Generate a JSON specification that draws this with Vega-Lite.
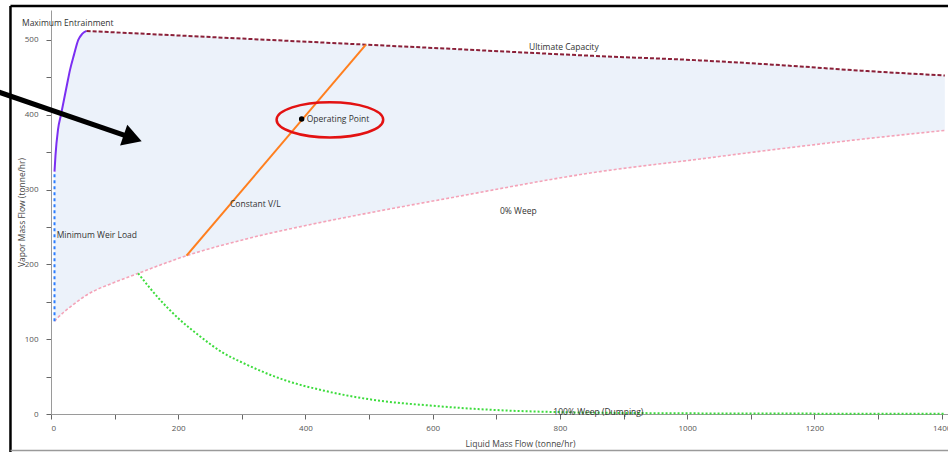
{
  "$schema": "https://vega.github.io/schema/vega-lite/v6.json",
  "width": 897,
  "height": 404,
  "autosize": "none",
  "padding": {"left": 51, "top": 10, "right": 0, "bottom": 38},
  "background": "white",
  "config": {"view": {"stroke": null}, "font": "Open Sans", "text": {"font": "Open Sans"}},
  "datasets": {
    "region": [
      {"x": 5.5, "y": 124, "y2": 324}, {"x": 7, "y": 125.5, "y2": 345}, {"x": 11, "y": 129, "y2": 380},
      {"x": 15.7, "y": 133, "y2": 400}, {"x": 20.4, "y": 136.3, "y2": 420}, {"x": 25.1, "y": 139.6, "y2": 440},
      {"x": 29.9, "y": 143, "y2": 460}, {"x": 36.1, "y": 147, "y2": 480}, {"x": 42.9, "y": 151.3, "y2": 500},
      {"x": 49, "y": 155, "y2": 508}, {"x": 56, "y": 159, "y2": 512}, {"x": 100, "y": 176, "y2": 510.2},
      {"x": 137, "y": 188, "y2": 508.6}, {"x": 213, "y": 211.6, "y2": 505.5}, {"x": 307, "y": 234, "y2": 501.5},
      {"x": 412, "y": 254, "y2": 497.2}, {"x": 495, "y": 268, "y2": 493.7}, {"x": 622, "y": 288, "y2": 488.4},
      {"x": 863, "y": 324, "y2": 478.3}, {"x": 1012, "y": 340, "y2": 473}, {"x": 1161, "y": 356, "y2": 465.5},
      {"x": 1271, "y": 367, "y2": 459}, {"x": 1405, "y": 379, "y2": 452.5}
    ],
    "weep0": [
      {"x": 5.5, "y": 124}, {"x": 11, "y": 129}, {"x": 20, "y": 136}, {"x": 30, "y": 143}, {"x": 45.6, "y": 153},
      {"x": 56, "y": 159}, {"x": 100, "y": 176}, {"x": 137, "y": 188}, {"x": 213, "y": 211.6}, {"x": 307, "y": 234},
      {"x": 412, "y": 254}, {"x": 495, "y": 268}, {"x": 622, "y": 288}, {"x": 863, "y": 324}, {"x": 1012, "y": 340},
      {"x": 1161, "y": 356}, {"x": 1271, "y": 367}, {"x": 1405, "y": 379}
    ],
    "weep100": [
      {"x": 137, "y": 188}, {"x": 171, "y": 153}, {"x": 200, "y": 128}, {"x": 234, "y": 104}, {"x": 270, "y": 82},
      {"x": 300, "y": 69}, {"x": 365, "y": 46}, {"x": 430, "y": 31}, {"x": 506, "y": 19}, {"x": 600, "y": 11},
      {"x": 690, "y": 5.7}, {"x": 800, "y": 2.5}, {"x": 900, "y": 1.4}, {"x": 1000, "y": 0.9}, {"x": 1200, "y": 0.5},
      {"x": 1405, "y": 0.3}
    ],
    "entrain": [
      {"x": 5.5, "y": 324}, {"x": 7, "y": 345}, {"x": 11, "y": 380}, {"x": 15.7, "y": 400}, {"x": 20.4, "y": 420},
      {"x": 25.1, "y": 440}, {"x": 29.9, "y": 460}, {"x": 36.1, "y": 480}, {"x": 42.9, "y": 500}, {"x": 49, "y": 508},
      {"x": 56, "y": 512}
    ],
    "ultimate": [
      {"x": 56, "y": 512}, {"x": 137, "y": 508.6}, {"x": 307, "y": 501.5}, {"x": 495, "y": 493.7}, {"x": 622, "y": 488.4},
      {"x": 863, "y": 478.3}, {"x": 1012, "y": 473}, {"x": 1161, "y": 465.5}, {"x": 1271, "y": 459}, {"x": 1405, "y": 452.5}
    ],
    "vl": [{"x": 213, "y": 211.6}, {"x": 495, "y": 493.7}],
    "weir": [{"x": 5.5, "y": 124, "y2": 324}],
    "op": [{"x": 394, "y": 394.4}],
    "labels": [
      {"x": -45.6, "y": 522.6, "text": "Maximum Entrainment"},
      {"x": 751.4, "y": 491, "text": "Ultimate Capacity"},
      {"x": 281.4, "y": 281, "text": "Constant V/L"},
      {"x": 705.8, "y": 270.8, "text": "0% Weep"},
      {"x": 9, "y": 238.7, "text": "Minimum Weir Load"},
      {"x": 401.9, "y": 393.9, "text": "Operating Point"},
      {"x": 789.6, "y": 2.4, "text": "100% Weep (Dumping)"}
    ],
    "ellipse": [{"x": 438.4, "y": 393.2}],
    "arrowline": [{"x": -88, "y": 432, "x2": 128.4, "y2": 368.6}],
    "arrowhead": [{"x": 128.4, "y": 368.6}],
    "frameblack": [
      {"x": -63.7, "y": -55, "x2": -63.7, "y2": 545.3},
      {"x": -63.7, "y": 545.3, "x2": 1412, "y2": 545.3}
    ],
    "framegray": [{"x": -63.7, "y": -48.8, "x2": 1412, "y2": -48.8}]
  },
  "encoding": {
    "x": {
      "field": "x", "type": "quantitative",
      "scale": {"domain": [0, 1410], "nice": false, "zero": false},
      "axis": {
        "title": "Liquid Mass Flow (tonne/hr)",
        "values": [0, 100, 200, 300, 400, 500, 600, 700, 800, 900, 1000, 1100, 1200, 1300, 1400],
        "format": "d",
        "labelExpr": "datum.value % 200 === 0 ? datum.label : ''",
        "grid": false, "tickSize": 5, "labelPadding": 5,
        "domainColor": "#9a9a9a", "tickColor": "#666", "labelColor": "#555", "labelFontSize": 8, "labelFont": "Open Sans",
        "titleFont": "Open Sans", "titleFontSize": 8.5, "titleFontWeight": "normal", "titleColor": "#444",
        "titleX": 469, "titleY": 29, "titleBaseline": "middle", "titleAnchor": "middle"
      }
    },
    "y": {
      "field": "y", "type": "quantitative",
      "scale": {"domain": [0, 540], "nice": false},
      "axis": {
        "title": "Vapor Mass Flow (tonne/hr)",
        "values": [0, 50, 100, 150, 200, 250, 300, 350, 400, 450, 500],
        "labelExpr": "datum.value % 100 === 0 ? datum.label : ''",
        "grid": false, "tickSize": 5, "labelPadding": 8,
        "domainColor": "#9a9a9a", "tickColor": "#666", "labelColor": "#555", "labelFontSize": 8, "labelFont": "Open Sans",
        "titleFont": "Open Sans", "titleFontSize": 8.5, "titleFontWeight": "normal", "titleColor": "#444",
        "titleX": -30, "titleY": 202, "titleBaseline": "middle", "titleAnchor": "middle", "titleAngle": -90
      }
    }
  },
  "layer": [
    {"data": {"name": "region"}, "mark": {"type": "area", "color": "#ecf2fa", "interpolate": "monotone"},
     "encoding": {"y2": {"field": "y2"}}},
    {"data": {"name": "weep0"}, "mark": {"type": "line", "color": "#f4a3b8", "strokeWidth": 1.6, "strokeDash": [3, 2], "interpolate": "monotone"}, "encoding": {}},
    {"data": {"name": "weep100"}, "mark": {"type": "line", "color": "#3ddc3d", "strokeWidth": 2, "strokeDash": [2, 2], "interpolate": "monotone"}, "encoding": {}},
    {"data": {"name": "weir"}, "mark": {"type": "rule", "color": "#2b7dff", "strokeWidth": 2, "strokeDash": [3, 3]},
     "encoding": {"y2": {"field": "y2"}}},
    {"data": {"name": "entrain"}, "mark": {"type": "line", "color": "#7b2ff2", "strokeWidth": 2, "interpolate": "monotone"}, "encoding": {}},
    {"data": {"name": "ultimate"}, "mark": {"type": "line", "color": "#8b2038", "strokeWidth": 2, "strokeDash": [4, 2], "interpolate": "monotone"}, "encoding": {}},
    {"data": {"name": "vl"}, "mark": {"type": "line", "color": "#ff7f1e", "strokeWidth": 2}, "encoding": {}},
    {"data": {"name": "op"}, "mark": {"type": "point", "filled": true, "color": "#000", "size": 30, "opacity": 1}, "encoding": {}},
    {"data": {"name": "labels"}, "mark": {"type": "text", "align": "left", "baseline": "middle", "fontSize": 8.5, "color": "#333", "font": "Open Sans"},
     "encoding": {"text": {"field": "text"}}},
    {"data": {"name": "ellipse"}, "mark": {"type": "point", "filled": false, "stroke": "#e31212", "strokeWidth": 2.5, "opacity": 1,
      "shape": "M-1,0A1,0.33,0,1,0,1,0A1,0.33,0,1,0,-1,0Z", "size": 11364}, "encoding": {}},
    {"data": {"name": "arrowline"}, "mark": {"type": "rule", "color": "#000", "strokeWidth": 5},
     "encoding": {"x2": {"field": "x2"}, "y2": {"field": "y2"}}},
    {"data": {"name": "arrowhead"}, "mark": {"type": "point", "shape": "triangle-right", "filled": true, "color": "#000", "opacity": 1, "size": 484, "angle": 19}, "encoding": {}},
    {"data": {"name": "frameblack"}, "mark": {"type": "rule", "color": "#000", "strokeWidth": 2.5},
     "encoding": {"x2": {"field": "x2"}, "y2": {"field": "y2"}}},
    {"data": {"name": "framegray"}, "mark": {"type": "rule", "color": "#9a9a9a", "strokeWidth": 1.5},
     "encoding": {"x2": {"field": "x2"}, "y2": {"field": "y2"}}}
  ]
}
